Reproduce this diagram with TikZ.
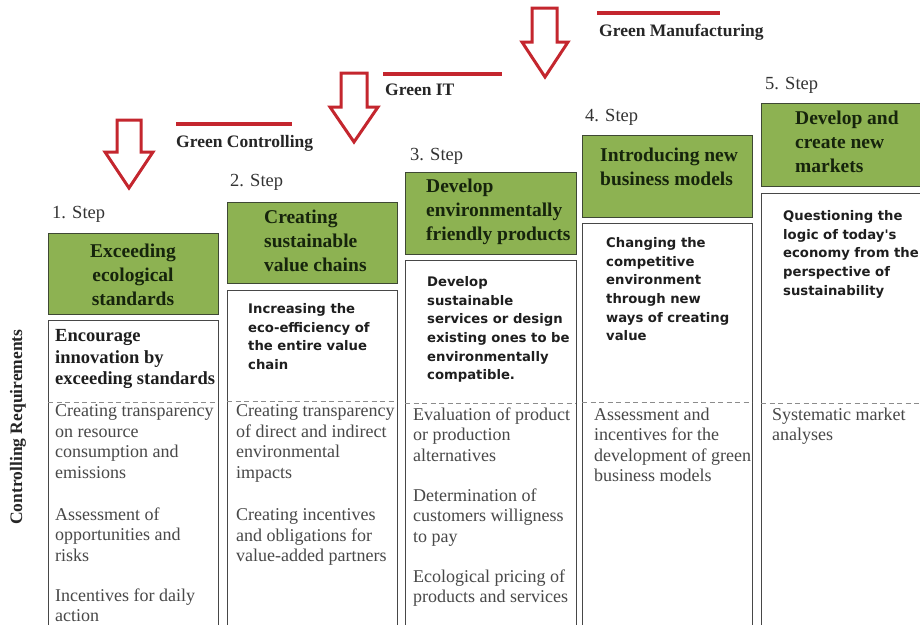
\documentclass[tikz,border=0pt]{standalone}
\usepackage{fontspec}
\setmainfont{Liberation Serif}
\newfontfamily\sansbf{DejaVu Sans}
\definecolor{gfill}{RGB}{141,178,82}
\definecolor{gedge}{RGB}{62,72,52}
\definecolor{gtext}{RGB}{22,36,12}
\definecolor{redc}{RGB}{196,38,46}
\definecolor{lowc}{RGB}{72,72,72}
\definecolor{topc}{RGB}{30,30,30}
\tikzset{
  greenbox/.style={draw=gedge, fill=gfill, line width=1.3pt, anchor=north west, inner sep=0},
  whitebox/.style={draw=black!72, line width=1.3pt, fill=white, anchor=north west, inner sep=0},
  titletxt/.style={font=\bfseries\fontsize{19.5}{24}\selectfont, text=gtext, align=left, inner sep=0, anchor=north west},
  topserif/.style={font=\bfseries\fontsize{18.5}{21.5}\selectfont, text=topc, align=left, inner sep=0, anchor=north west},
  topsans/.style={font=\sansbf\bfseries\fontsize{13.2}{18.6}\selectfont, text=topc, align=left, inner sep=0, anchor=north west},
  lowtxt/.style={font=\fontsize{18}{20.5}\selectfont, text=lowc, align=left, inner sep=0, anchor=north west},
  steptxt/.style={font=\fontsize{18.5}{22}\selectfont, text=black!80, inner sep=0, anchor=north west},
  greenlbl/.style={font=\bfseries\fontsize{17.5}{20}\selectfont, text=black!85, inner sep=0, anchor=north west},
  dashline/.style={draw=black!45, line width=0.9pt, dash pattern=on 5pt off 3.5pt},
  redline/.style={draw=redc, line width=4pt},
  redarrow/.style={draw=redc, line width=3pt, line join=miter, fill=white}
}
\begin{document}
\begin{tikzpicture}[x=1pt,y=-1pt]
\useasboundingbox[fill=white] (0,0) rectangle (920,624);

% red arrows and lines
\draw[redarrow] (117,120) -- (141,120) -- (141,152) -- (153,152) -- (129,188) -- (105,152) -- (117,152) -- cycle;
\draw[redarrow] (341,73) -- (367,73) -- (367,107) -- (378,107) -- (354,142) -- (330,107) -- (341,107) -- cycle;
\draw[redarrow] (532,8) -- (557,8) -- (557,42) -- (568,42) -- (545,77) -- (522,42) -- (532,42) -- cycle;
\draw[redline] (176,124) -- (292,124);
\draw[redline] (383,74) -- (502,74);
\draw[redline] (597,13) -- (720,13);
\node[greenlbl] (lgc) at (176,135) {Green Controlling};
\node[greenlbl] (lgit) at (385,84) {Green IT};
\node[greenlbl] (lgm) at (599,24) {Green Manufacturing};

% vertical label
\node[font=\bfseries\fontsize{17.5}{20}\selectfont, text=black!85, rotate=90, inner sep=0] (ctrl) at (18,427) {Controlling Requirements};

% column 1
\node[steptxt] (s1) at (52,206) {1. Step};
\node[greenbox, minimum width=170pt, minimum height=81pt] (g1) at (48,233) {};
\node[whitebox, minimum width=170pt, minimum height=320pt] (w1) at (48,320) {};
\draw[dashline] (48,402) -- (218,402);
\node[titletxt, align=center, anchor=north] (t1) at (133,244) {Exceeding\\ecological\\standards};
\node[topserif] (a1) at (55,329.5) {Encourage\\innovation by\\exceeding standards};
\node[lowtxt] (b1) at (55,404.5) {Creating transparency\\on resource\\consumption and\\emissions};
\node[lowtxt] (c1) at (55,507.5) {Assessment of\\opportunities and\\risks};
\node[lowtxt] (d1) at (55,588.5) {Incentives for daily\\action};

% column 2
\node[steptxt] (s2) at (230,174) {2. Step};
\node[greenbox, minimum width=170pt, minimum height=81pt] (g2) at (227,202) {};
\node[whitebox, minimum width=170pt, minimum height=350pt] (w2) at (227,290) {};
\draw[dashline] (227,401) -- (397,401);
\node[titletxt] (t2) at (264,210) {Creating\\sustainable\\value chains};
\node[topsans] (a2) at (248,303.4) {Increasing the\\eco-efficiency of\\the entire value\\chain};
\node[lowtxt] (b2) at (236,404.5) {Creating transparency\\of direct and indirect\\environmental\\impacts};
\node[lowtxt] (c2) at (236,508.5) {Creating incentives\\and obligations for\\value-added partners};

% column 3
\node[steptxt] (s3) at (410,148) {3. Step};
\node[greenbox, minimum width=171pt, minimum height=82pt] (g3) at (405,172) {};
\node[whitebox, minimum width=171pt, minimum height=380pt] (w3) at (405,260) {};
\draw[dashline] (405,403) -- (576,403);
\node[titletxt] (t3) at (426,179) {Develop\\environmentally\\friendly products};
\node[topsans] (a3) at (427,276.4) {Develop\\sustainable\\services or design\\existing ones to be\\environmentally\\compatible.};
\node[lowtxt] (b3) at (413,407.5) {Evaluation of product\\or production\\alternatives};
\node[lowtxt] (c3) at (413,488.5) {Determination of\\customers willigness\\to pay};
\node[lowtxt] (d3) at (413,569.5) {Ecological pricing of\\products and services};

% column 4
\node[steptxt] (s4) at (585,109) {4. Step};
\node[greenbox, minimum width=170pt, minimum height=82pt] (g4) at (582,135) {};
\node[whitebox, minimum width=170pt, minimum height=420pt] (w4) at (582,223) {};
\draw[dashline] (582,402) -- (752,402);
\node[titletxt] (t4) at (600,148) {Introducing new\\business models};
\node[topsans] (a4) at (606,237.4) {Changing the\\competitive\\environment\\through new\\ways of creating\\value};
\node[lowtxt] (b4) at (594,407.5) {Assessment and\\incentives for the\\development of green\\business models};

% column 5
\node[steptxt] (s5) at (765,77) {5. Step};
\node[greenbox, minimum width=170pt, minimum height=83pt] (g5) at (761,103) {};
\node[whitebox, minimum width=170pt, minimum height=450pt] (w5) at (761,193) {};
\draw[dashline] (761,403) -- (920,403);
\node[titletxt] (t5) at (795,111) {Develop and\\create new\\markets};
\node[topsans] (a5) at (783,210.4) {Questioning the\\logic of today's\\economy from the\\perspective of\\sustainability};
\node[lowtxt] (b5) at (772,407.5) {Systematic market\\analyses};
\end{tikzpicture}
\end{document}
